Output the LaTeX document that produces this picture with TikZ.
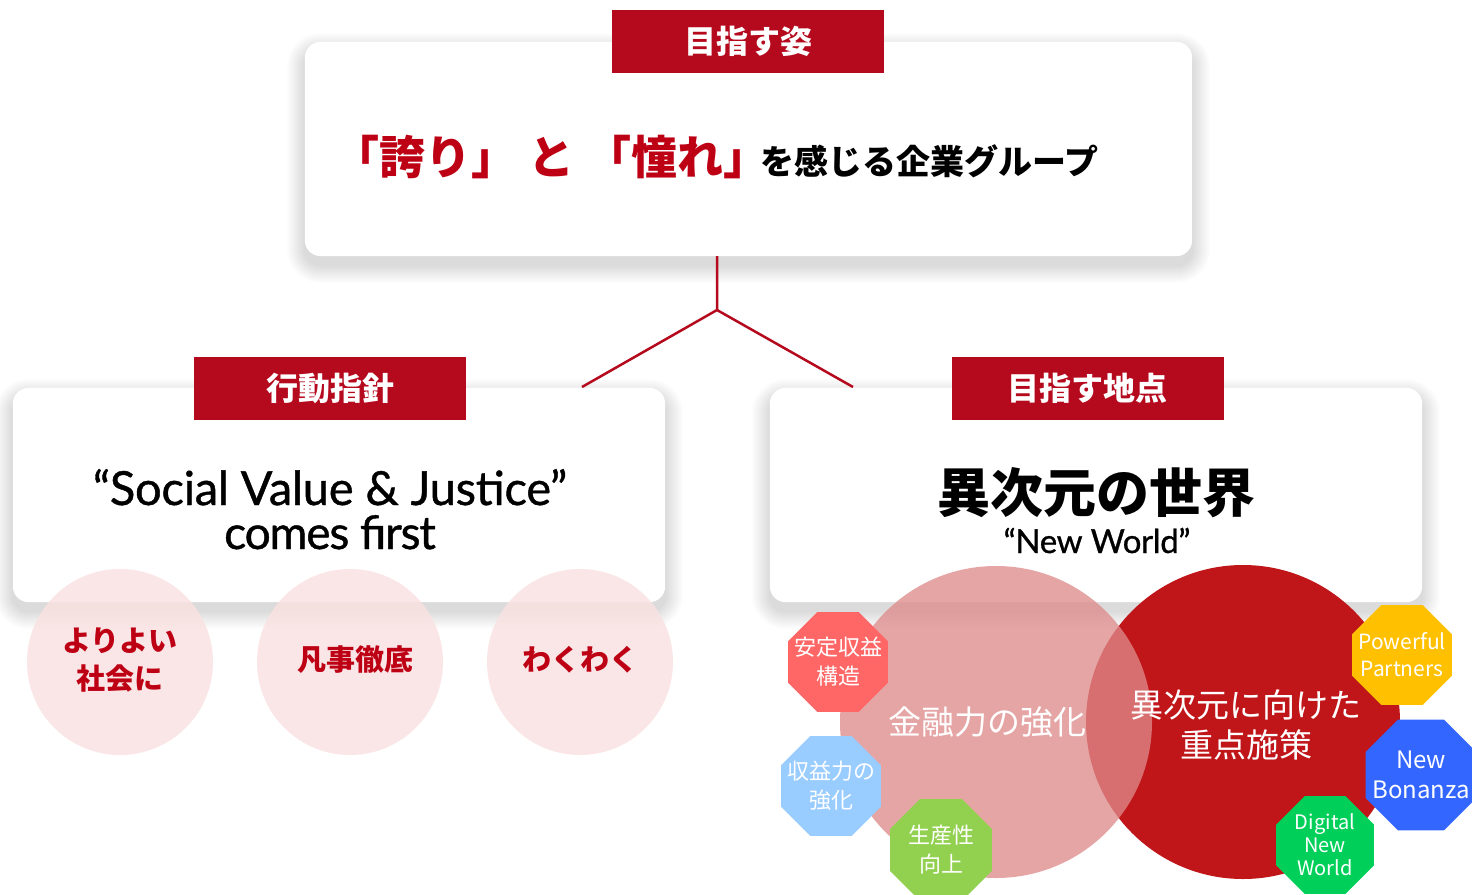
\documentclass[tikz,border=0pt]{standalone}
\usepackage{fontspec}
\setmainfont{Lato}
\newfontfamily\latom[FakeBold=0.9,LetterSpace=-0.5]{Lato}
\newfontfamily\latot[FakeBold=0.9,LetterSpace=-2.5]{Lato}
\newfontfamily\latonw[FakeBold=0.9,LetterSpace=-1]{Lato}
\newfontfamily\jp{Noto Sans CJK JP}
\usetikzlibrary{shapes.geometric,calc}
\definecolor{tabred}{RGB}{181,10,30}
\definecolor{venred}{RGB}{192,22,26}
\definecolor{venpink}{RGB}{222,139,139}
\definecolor{softpink}{RGB}{250,226,226}
\definecolor{txtred}{RGB}{190,0,20}
\definecolor{octred}{RGB}{255,102,102}
\definecolor{octblue}{RGB}{153,204,255}
\definecolor{octlgreen}{RGB}{146,208,80}
\definecolor{octyellow}{RGB}{255,192,0}
\definecolor{octdblue}{RGB}{51,102,255}
\definecolor{octgreen}{RGB}{0,208,90}
\begin{document}
\begin{tikzpicture}[x=1pt,y=-1pt,
  card/.style={fill=white, rounded corners=16pt, inner sep=0pt},
  shadowlayer/.style={fill=black, fill opacity=0.008},
  tab/.style={fill=tabred, inner sep=0pt, minimum width=272pt, minimum height=63pt, text=white,
    font={\jp\bfseries\fontsize{32}{36}\selectfont}},
  link/.style={draw=tabred, line width=2.5pt},
  softcirc/.style={circle, fill=softpink, fill opacity=0.85, minimum size=186pt, inner sep=0pt},
  circtxt/.style={text=txtred, align=center, font={\jp\bfseries\fontsize{29}{38}\selectfont}},
  ventxt/.style={text=white, align=center, font={\jp\fontsize{33}{40}\selectfont}},
  oct/.style={regular polygon, regular polygon sides=8, inner sep=0pt},
  octtxt/.style={text=white, align=center, inner sep=0pt},
]
\useasboundingbox (0,0) rectangle (1472,894);
\fill[white] (0,0) rectangle (1472,894);

% card placeholders (for anchors), then shadows, then cards
\path node[inner sep=0pt, minimum width=887pt, minimum height=214pt] (topcard) at (748.5,149) {}
      node[inner sep=0pt, minimum width=652pt, minimum height=214pt] (lcard) at (339,495) {}
      node[inner sep=0pt, minimum width=652pt, minimum height=214pt] (rcard) at (1096,495) {};
\foreach \c in {topcard,lcard,rcard}{
  \foreach \k in {1,...,18}{
    \fill[shadowlayer, rounded corners={(16+\k)*1pt}]
      ($(\c.north west)+(-\k,-\k+9)$) rectangle ($(\c.south east)+(\k,\k+9)$);
  }
  \fill[card] (\c.north west) rectangle (\c.south east);
}

% tabs
\node[tab] (toptab) at (748,41.5) {目指す姿};
\node[tab] (ltab) at (330,388.5) {行動指針};
\node[tab] (rtab) at (1087.5,388.5) {目指す地点};

% connector
\coordinate (j) at (717,310);
\coordinate (lend) at (582,387);
\coordinate (rend) at (853,387);
\draw[link] (topcard.south -| j) -- (j) -- (lend);
\draw[link] (j) -- (rend);

% top slogan
\node[anchor=base, inner sep=0pt] (slogan) at (716,174)
  {{\jp\bfseries\color{txtred}\fontsize{46}{50}\selectfont 「誇り」\hspace{11pt}と\hspace{11pt}「憧れ」\hspace{-9pt}}{\jp\bfseries\fontsize{34}{40}\selectfont を感じる企業グループ}};

% left card text
\node[anchor=base, font={\latom\fontsize{47}{50}\selectfont}, inner sep=0pt] (sv) at (330,505) {“Social Value \& Justice”};
\node[anchor=base, font={\latot\fontsize{46}{50}\selectfont}, inner sep=0pt] (cf) at (330,549) {comes first};

% right card text
\node[anchor=base, font={\jp\bfseries\fontsize{53}{56}\selectfont}, inner sep=0pt] (ijigen) at (1096,512) {異次元の世界};
\node[anchor=base, font={\latonw\fontsize{33}{36}\selectfont}, inner sep=0pt] (nw) at (1097,553) {“New World”};

% soft circles
\node[softcirc] (c1) at (120,662) {};
\node[softcirc] (c2) at (350,662) {};
\node[softcirc] (c3) at (580,662) {};
\node[circtxt] (c1t) at (120,660) {よりよい\\社会に};
\node[circtxt] (c2t) at (355,660) {凡事徹底};
\node[circtxt] (c3t) at (580,660) {わくわく};

% venn
\node[circle, fill=venred, minimum size=314pt, inner sep=0pt] (vr) at (1243,722) {};
\node[circle, fill=venpink, fill opacity=0.77, minimum size=312pt, inner sep=0pt] (vl) at (996,722) {};
\node[ventxt] (vlt) at (987,722) {金融力の強化};
\node[ventxt] (vrt) at (1246,725) {異次元に向けた\\重点施策};

% octagons
\node[oct, fill=octred, minimum size=108pt] (o1) at (838,662) {};
\node[oct, fill=octblue, minimum size=108pt] (o2) at (831,786) {};
\node[oct, fill=octlgreen, minimum size=110pt] (o3) at (941,850) {};
\node[oct, fill=octyellow, minimum size=108pt] (o4) at (1402,655) {};
\node[oct, fill=octdblue, minimum size=120pt] (o5) at (1421,775) {};
\node[oct, fill=octgreen, minimum size=106pt] (o6) at (1325,845) {};

\node[octtxt, font={\jp\fontsize{22}{29}\selectfont}] (o1t) at (o1) {安定収益\\構造};
\node[octtxt, font={\jp\fontsize{22}{29}\selectfont}] (o2t) at (o2) {収益力の\\強化};
\node[octtxt, font={\jp\fontsize{22}{29}\selectfont}] (o3t) at (o3) {生産性\\向上};
\node[octtxt, font={\jp\fontsize{21}{27}\selectfont}] (o4t) at (o4) {Powerful\\Partners};
\node[octtxt, font={\jp\fontsize{24}{30}\selectfont}] (o5t) at (o5) {New\\Bonanza};
\node[octtxt, font={\jp\fontsize{20}{23}\selectfont}] (o6t) at (o6) {Digital\\New\\World};
\end{tikzpicture}
\end{document}
